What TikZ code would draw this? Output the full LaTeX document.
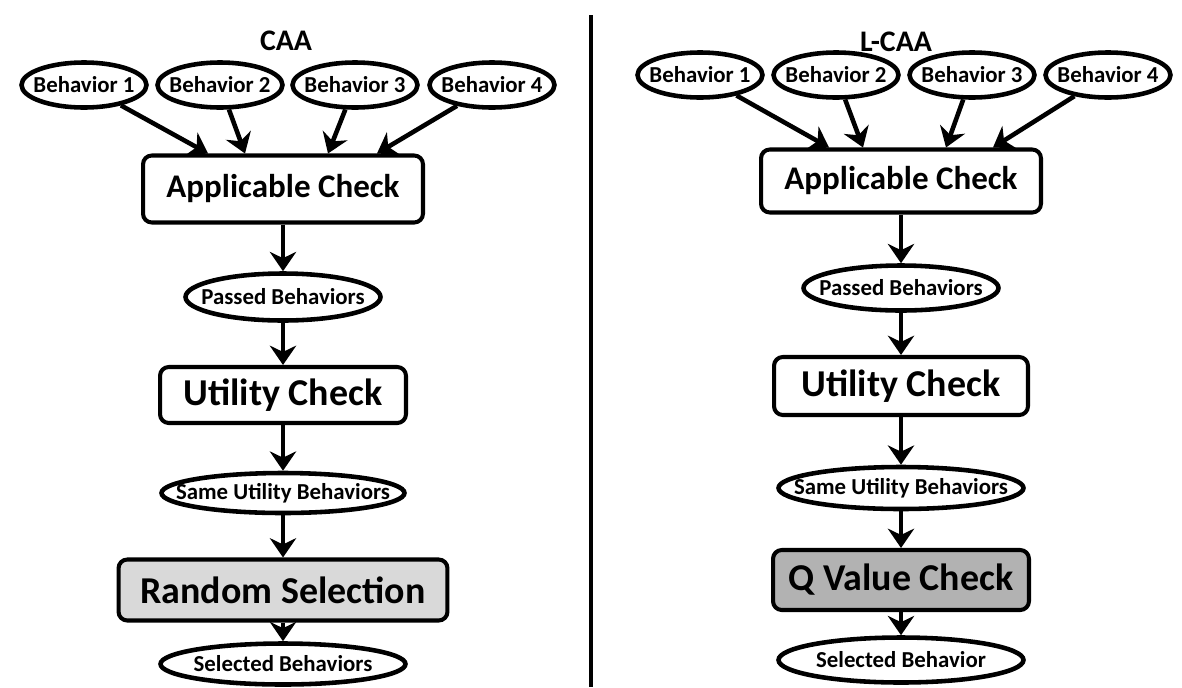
\documentclass[tikz,border=0pt]{standalone}
\usepackage{fontspec}
\setmainfont{Carlito}
\usetikzlibrary{shapes.geometric,arrows.meta}
\newcommand{\nw}[1]{\makebox[0pt]{#1}}
\tikzset{
  behav/.style={draw, ellipse, line width=2.6pt, inner sep=0pt, minimum width=2.5cm, minimum height=0.9cm, font=\fontsize{13}{14}\selectfont\bfseries},
  stage/.style={draw, rounded corners=5pt, line width=2.3pt, inner sep=0pt, font=\fontsize{21.6}{24}\selectfont\bfseries},
  heading/.style={font=\fontsize{17}{18}\selectfont\bfseries},
  arr/.style={line width=2.6pt, -{Stealth[length=11pt,width=15pt]}},
}
\begin{document}
\begin{tikzpicture}[x=0.02cm, y=-0.02cm]
\useasboundingbox (0,0) rectangle (1182,687);

% CAA
\node[heading] (titleL) at (286,41) {CAA};
\foreach \i/\x in {1/84,2/220,3/355,4/492}
  \node[behav] (bL\i) at (\x,85) {\nw{Behavior \i}};
\node[stage, minimum width=5.6cm, minimum height=1.34cm, font=\fontsize{18.8}{20}\selectfont\bfseries] (appL) at (283,189) {Applicable Check};
\node[behav, minimum width=3.9cm, minimum height=0.94cm] (passL) at (283,297) {\nw{Passed Behaviors}};
\node[stage, minimum width=4.92cm, minimum height=1.12cm] (utilL) at (283,395) {Utility Check};
\node[behav, minimum width=4.86cm, minimum height=0.8cm] (sameL) at (283,493) {\nw{Same Utility Behaviors}};
\node[stage, fill=gray!30, minimum width=6.58cm, minimum height=1.22cm] (randL) at (283,590) {Random Selection};
\node[behav, minimum width=4.9cm, minimum height=0.82cm] (selL) at (283,664) {\nw{Selected Behaviors}};

\foreach \i/\dx in {1/-1.5,2/-0.76,3/0.9,4/1.88}
  \draw[arr] (bL\i) -- ([xshift=\dx cm]appL.north);
\draw[arr] (appL) -- (passL);
\draw[arr] (passL) -- (utilL);
\draw[arr] (utilL) -- (sameL);
\draw[arr] (sameL) -- (randL);
\draw[arr] (randL) -- (selL);

% divider
\draw[line width=2.3pt] (591,15) -- (591,687);

% L-CAA
\node[heading] (titleR) at (896,42) {L-CAA};
\foreach \i/\x in {1/700,2/836,3/972,4/1108}
  \node[behav] (bR\i) at (\x,75) {\nw{Behavior \i}};
\node[stage, minimum width=5.6cm, minimum height=1.26cm, font=\fontsize{18.8}{20}\selectfont\bfseries] (appR) at (901,181) {Applicable Check};
\node[behav, minimum width=3.9cm, minimum height=0.9cm] (passR) at (901,288) {\nw{Passed Behaviors}};
\node[stage, minimum width=5.08cm, minimum height=1.16cm] (utilR) at (901,386) {Utility Check};
\node[behav, minimum width=4.9cm, minimum height=0.84cm] (sameR) at (901,488) {\nw{Same Utility Behaviors}};
\node[stage, fill=gray!60, minimum width=5.12cm, minimum height=1.2cm] (qvalR) at (901,580) {Q Value Check};
\node[behav, minimum width=4.9cm, minimum height=0.9cm] (selR) at (901,660) {\nw{Selected Behavior}};

\foreach \i/\dx in {1/-1.44,2/-0.76,3/0.9,4/1.84}
  \draw[arr] (bR\i) -- ([xshift=\dx cm]appR.north);
\draw[arr] (appR) -- (passR);
\draw[arr] (passR) -- (utilR);
\draw[arr] (utilR) -- (sameR);
\draw[arr] (sameR) -- (qvalR);
\draw[arr] (qvalR) -- (selR);
\end{tikzpicture}
\end{document}
